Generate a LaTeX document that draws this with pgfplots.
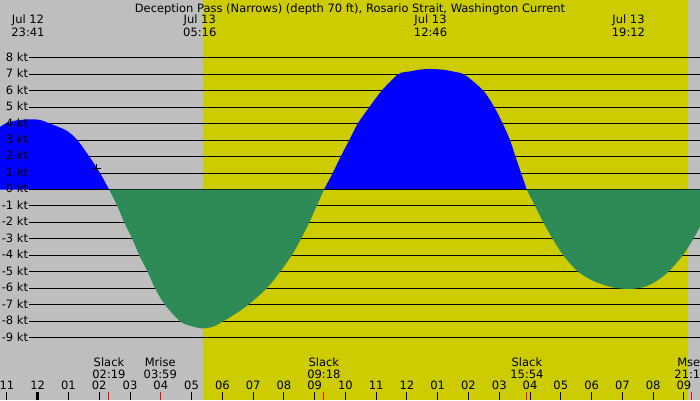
\documentclass[border=0pt]{standalone}
\usepackage{fontspec}
\setmainfont{DejaVu Sans}
\usepackage{pgfplots}
\pgfplotsset{compat=1.18}

\definecolor{nightbg}{RGB}{190,190,190}
\definecolor{daybg}{RGB}{204,204,0}
\definecolor{flood}{RGB}{0,0,255}
\definecolor{ebb}{RGB}{46,139,87}
\newcommand\lbl{\fontsize{11.5}{13}\selectfont}

\begin{document}
\begin{tikzpicture}
\useasboundingbox (0,0) rectangle (700pt,400pt);
\clip (0,0) rectangle (700pt,400pt);
\begin{axis}[
  at={(0,0)}, anchor=south west,
  scale only axis, width=700pt, height=400pt,
  % x in hours from midnight of Jul 13, y in knots
  xmin=-1.2252, xmax=21.524, ymin=-12.781, ymax=11.506,
  axis line style={draw=none},
  axis background/.style={fill=nightbg},
  axis on top,
  ytick=\empty,
  xtick={-1,0,...,21},
  xticklabels={11,12,01,02,03,04,05,06,07,08,09,10,11,12,01,02,03,04,05,06,07,08,09},
  tick pos=left, tick align=inside,
  major tick length=8.3pt,
  major tick style={black, line width=1pt},
  minor xtick={0}, minor tick length=8.3pt,
  minor tick style={black, line width=3pt},
  extra x ticks={2.317,3.983,9.3,15.9,21.233},
  extra x tick labels={},
  extra x tick style={major tick style={red, line width=1pt}},
  xticklabel style={font=\lbl, anchor=base, yshift=10.7pt},
  current/.style={draw=none, smooth, tension=0.5},
]

% daylight band (sunrise to sunset)
\addplot[draw=none, fill=daybg] coordinates
  {(5.382,-12.781) (5.382,11.506) (21.125,11.506) (21.125,-12.781)} -- cycle;

% knot lines
\pgfplotsinvokeforeach{-9,...,8}{
  \addplot[black, line width=1pt] coordinates {(-0.273,#1) (21.6,#1)};
}

% flood current
\addplot[current, fill=flood] coordinates {
  (-1.225,3.8) (-0.998,4.05) (-0.673,4.2) (-0.25,4.26) (0.075,4.22)
  (0.4,4.0) (0.942,3.57) (1.287,3.0) (1.677,2.0) (2.025,1.0) (2.32,0)
} \closedcycle;
\addplot[current, fill=flood] coordinates {
  (9.305,0) (9.588,1) (9.847,2) (10.127,3) (10.4,4) (10.777,5) (11.18,6)
  (11.719,7) (12.101,7.17) (12.426,7.28) (12.75,7.32) (13.183,7.27)
  (13.507,7.16) (13.887,6.95) (14.482,6) (14.839,5) (15.112,4) (15.35,3)
  (15.525,2) (15.71,1) (15.892,0)
} \closedcycle;

\addplot[black, line width=1pt] coordinates {(-0.273,0) (21.6,0)};

% ebb current
\addplot[current, fill=ebb] coordinates {
  (2.32,0) (2.587,-1) (2.814,-2) (3.074,-3) (3.302,-4) (3.575,-5)
  (3.812,-6) (4.137,-7) (4.625,-8) (4.95,-8.27) (5.33,-8.43) (5.697,-8.33)
  (6.032,-8) (6.467,-7.5) (6.844,-7) (7.442,-6) (7.875,-5) (8.255,-4)
  (8.557,-3) (8.827,-2) (9.067,-1) (9.305,0)
} \closedcycle;
\addplot[current, fill=ebb] coordinates {
  (15.892,0) (16.162,-1) (16.432,-2) (16.737,-3) (17.082,-4) (17.569,-5)
  (18.113,-5.6) (18.707,-5.95) (19.25,-6.04) (19.737,-5.9) (20.117,-5.55)
  (20.494,-5) (20.962,-4) (21.306,-3) (21.524,-2.26)
} \closedcycle;

% current time marker
\addplot[only marks, mark=+, mark size=4pt, black, line width=0.8pt]
  coordinates {(1.917,1.3)};

% knot labels
\pgfplotsinvokeforeach{-9,...,8}{
  \node[font=\lbl, anchor=base east, inner sep=0pt, yshift=-3.4pt]
    at (axis cs:-0.3055,#1) {#1 kt};
}

% title and extreme-current times
\node[font=\lbl, anchor=base] at (axis cs:10.15,10.759)
  {Deception Pass (Narrows) (depth 70 ft), Rosario Strait, Washington Current};
\node[font=\lbl, anchor=base] at (axis cs:-0.317,10.049) {Jul 12};
\node[font=\lbl, anchor=base] at (axis cs:-0.317,9.32) {23:41};
\node[font=\lbl, anchor=base] at (axis cs:5.267,10.049) {Jul 13};
\node[font=\lbl, anchor=base] at (axis cs:5.267,9.32) {05:16};
\node[font=\lbl, anchor=base] at (axis cs:12.767,10.049) {Jul 13};
\node[font=\lbl, anchor=base] at (axis cs:12.767,9.32) {12:46};
\node[font=\lbl, anchor=base] at (axis cs:19.2,10.049) {Jul 13};
\node[font=\lbl, anchor=base] at (axis cs:19.2,9.32) {19:12};

% slack water and moon events
\node[font=\lbl, anchor=base] at (axis cs:2.317,-10.759) {Slack};
\node[font=\lbl, anchor=base] at (axis cs:2.317,-11.464) {02:19};
\node[font=\lbl, anchor=base] at (axis cs:3.983,-10.759) {Mrise};
\node[font=\lbl, anchor=base] at (axis cs:3.983,-11.464) {03:59};
\node[font=\lbl, anchor=base] at (axis cs:9.3,-10.759) {Slack};
\node[font=\lbl, anchor=base] at (axis cs:9.3,-11.464) {09:18};
\node[font=\lbl, anchor=base] at (axis cs:15.9,-10.759) {Slack};
\node[font=\lbl, anchor=base] at (axis cs:15.9,-11.464) {15:54};
\node[font=\lbl, anchor=base] at (axis cs:21.233,-10.759) {Mset};
\node[font=\lbl, anchor=base] at (axis cs:21.233,-11.464) {21:14};
\end{axis}
\end{tikzpicture}
\end{document}
